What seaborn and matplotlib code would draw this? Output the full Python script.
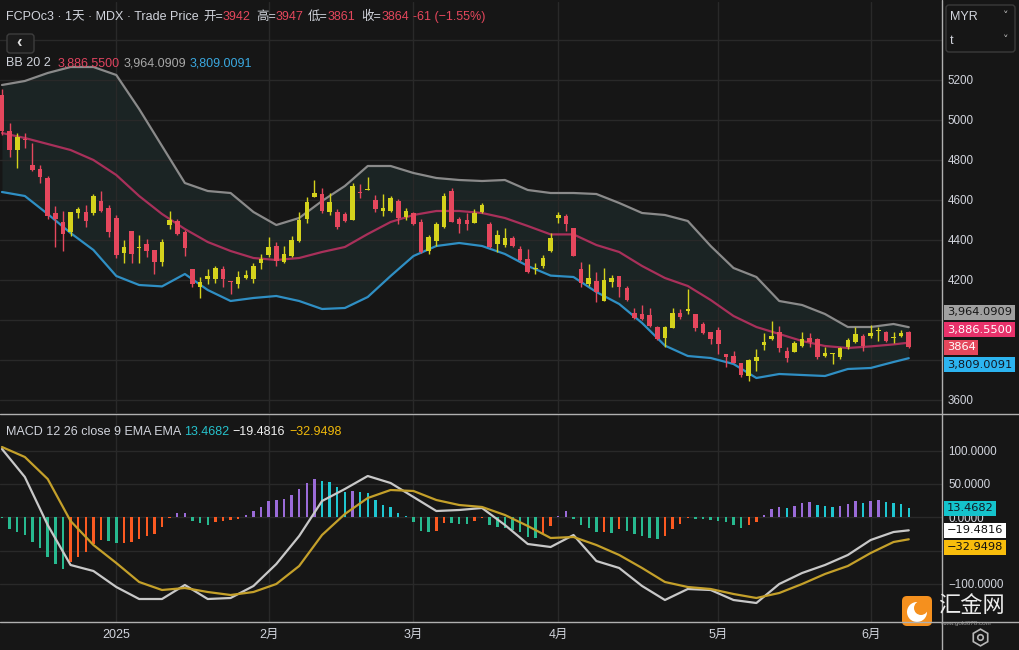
#!/usr/bin/env python3
# -*- coding: utf-8 -*-
"""
FCPOc3 日线图：K线 + 布林带(20,2) + MACD(12,26,9)
"""

import matplotlib
matplotlib.use('Agg')
import matplotlib.pyplot as plt
from matplotlib.patches import FancyBboxPatch, Circle
from matplotlib.lines import Line2D
import seaborn as sns
import numpy as np

# ---- K线数据（按交易日顺序，共120根）----
opens = [5125, 4945, 4850, 4907, 4775, 4755, 4710, 4533, 4492, 4442,
         4537, 4538, 4537, 4595, 4562, 4512, 4337, 4445, 4362, 4380,
         4350, 4292, 4475, 4495, 4442, 4253, 4167, 4203, 4203, 4253,
         4190, 4178, 4212, 4203, 4283, 4325, 4370, 4292, 4320, 4397,
         4505, 4617, 4628, 4538, 4542, 4530, 4500, 4640, 4650, 4600,
         4547, 4547, 4595, 4517, 4533, 4492, 4345, 4397, 4467, 4645,
         4503, 4500, 4487, 4542, 4480, 4380, 4375, 4408, 4353, 4305,
         4255, 4270, 4345, 4512, 4522, 4458, 4255, 4180, 4197, 4097,
         4188, 4220, 4162, 4037, 4030, 4025, 3967, 3908, 3962, 4033,
         4047, 4030, 3980, 3942, 3950, 3828, 3822, 3783, 3720, 3797,
         3875, 3903, 3940, 3845, 3842, 3870, 3908, 3903, 3820, 3832,
         3813, 3867, 3892, 3920, 3920, 3945, 3942, 3910, 3920, 3942]
highs = [5155, 4983, 4937, 4937, 4887, 4775, 4720, 4570, 4545, 4542,
         4567, 4575, 4630, 4645, 4573, 4525, 4400, 4445, 4425, 4403,
         4350, 4405, 4545, 4503, 4450, 4253, 4213, 4253, 4270, 4270,
         4195, 4245, 4250, 4287, 4330, 4413, 4392, 4370, 4420, 4538,
         4617, 4700, 4658, 4633, 4553, 4542, 4683, 4678, 4717, 4625,
         4630, 4620, 4603, 4562, 4542, 4503, 4425, 4492, 4633, 4658,
         4517, 4537, 4553, 4587, 4492, 4450, 4458, 4420, 4370, 4353,
         4283, 4325, 4433, 4538, 4530, 4458, 4292, 4280, 4238, 4258,
         4225, 4220, 4170, 4062, 4075, 4058, 3972, 3970, 4058, 4053,
         4153, 4030, 3992, 3942, 3967, 3830, 3845, 3783, 3803, 3853,
         3933, 3995, 3970, 3867, 3895, 3942, 3933, 3908, 3867, 3837,
         3867, 3908, 3963, 3930, 3975, 3967, 3947, 3938, 3950, 3947]
lows = [4925, 4817, 4762, 4858, 4747, 4687, 4503, 4367, 4347, 4422,
        4508, 4467, 4525, 4542, 4417, 4308, 4283, 4287, 4287, 4313,
        4228, 4272, 4455, 4425, 4320, 4167, 4108, 4178, 4183, 4167,
        4128, 4162, 4205, 4187, 4253, 4313, 4270, 4283, 4317, 4392,
        4487, 4617, 4537, 4525, 4455, 4492, 4500, 4612, 4650, 4542,
        4522, 4542, 4478, 4500, 4475, 4333, 4328, 4370, 4462, 4488,
        4433, 4450, 4483, 4533, 4358, 4342, 4363, 4367, 4297, 4237,
        4230, 4258, 4342, 4487, 4447, 4320, 4163, 4170, 4088, 4097,
        4163, 4117, 4097, 4003, 4000, 3967, 3900, 3867, 3958, 4005,
        4030, 3945, 3928, 3880, 3830, 3763, 3783, 3717, 3697, 3747,
        3850, 3900, 3842, 3792, 3838, 3867, 3867, 3803, 3813, 3778,
        3803, 3853, 3883, 3847, 3908, 3895, 3892, 3883, 3913, 3861]
closes = [4945, 4850, 4917, 4900, 4750, 4717, 4520, 4503, 4428, 4538,
          4553, 4497, 4620, 4547, 4442, 4325, 4367, 4330, 4367, 4347,
          4292, 4388, 4500, 4430, 4362, 4180, 4188, 4220, 4262, 4203,
          4188, 4213, 4225, 4272, 4303, 4363, 4297, 4328, 4400, 4500,
          4590, 4637, 4545, 4590, 4467, 4497, 4670, 4637, 4657, 4553,
          4558, 4608, 4508, 4547, 4478, 4342, 4417, 4480, 4620, 4492,
          4480, 4480, 4537, 4575, 4363, 4425, 4408, 4370, 4300, 4242,
          4258, 4308, 4412, 4525, 4480, 4320, 4183, 4208, 4142, 4200,
          4208, 4167, 4100, 4012, 4005, 3970, 3905, 3967, 4033, 4013,
          4057, 3962, 3937, 3905, 3878, 3813, 3787, 3725, 3800, 3817,
          3892, 3920, 3862, 3812, 3883, 3903, 3892, 3817, 3837, 3835,
          3862, 3900, 3930, 3870, 3933, 3947, 3897, 3912, 3933, 3864]

# ---- 布林带（每3根取一个读数）----
bb_idx = list(range(0, 118, 3)) + [119]
bb_upper = [5175, 5195, 5235, 5265, 5265, 5225, 5055, 4870, 4685, 4645,
            4635, 4540, 4475, 4510, 4595, 4670, 4770, 4770, 4735, 4710,
            4700, 4695, 4700, 4650, 4635, 4635, 4630, 4585, 4535, 4525,
            4495, 4370, 4260, 4215, 4095, 4075, 4030, 3965, 3965, 3980,
            3964.0909]
bb_mid = [4935, 4910, 4880, 4850, 4800, 4725, 4620, 4530, 4455, 4390,
          4345, 4310, 4300, 4310, 4340, 4365, 4430, 4490, 4525, 4545,
          4545, 4535, 4510, 4470, 4428, 4428, 4375, 4340, 4270, 4210,
          4170, 4100, 4020, 3965, 3930, 3895, 3870, 3860, 3868, 3878,
          3886.55]
bb_lower = [4640, 4620, 4530, 4435, 4350, 4220, 4175, 4168, 4230, 4150,
            4095, 4110, 4120, 4095, 4055, 4060, 4115, 4220, 4320, 4370,
            4385, 4370, 4330, 4270, 4222, 4215, 4140, 4080, 3985, 3872,
            3820, 3810, 3780, 3710, 3730, 3725, 3720, 3755, 3760, 3790,
            3809.0091]

# ---- MACD 线（同样每3根一个读数）----
macd_line = [102.5, 60.5, -11.5, -71.5, -80.5, -104.5, -122.5, -122.5, -101.5, -122.5,
             -121, -103, -70, -28, 24.5, 42.5, 62, 51.5, 30.5, 9.5,
             11, 14, -11.5, -40, -44.5, -26.5, -65.5, -76, -103, -124,
             -107.5, -109, -124, -128.5, -100, -83.5, -71.5, -56.5, -34, -22,
             -19.4816]
signal_line = [105.5, 90.5, 57.5, -5.5, -41.5, -68.5, -97, -109, -106, -112,
               -116.5, -112, -100, -73, -26.5, 5, 29, 41, 39.5, 26,
               18.5, 15.5, 3.5, -13, -31, -29.5, -41.5, -56.5, -76, -97,
               -104.5, -107.5, -115, -121, -113.5, -100, -85, -73, -53.5, -37,
               -32.9498]
# 柱状图，每根K线一个
macd_hist = [-1, -17.5, -21.5, -26.5, -36.5, -46.5, -60, -70, -77.5, -67.5,
             -60, -52.5, -40, -33.5, -35, -39, -38.5, -36.5, -32.5, -27.5,
             -25, -15, -1, 6.5, 7, -5, -9, -11.5, -6.5, -5,
             -3.5, -2.5, 3.5, 9, 15, 25, 26.5, 27.5, 33.5, 42.5,
             51.5, 57.5, 55, 53.5, 45, 37.5, 40, 38.5, 36.5, 26,
             18.5, 15, 6.5, 2.5, -7.5, -20, -21.5, -21, -8.5, -9,
             -10, -10.5, -5, -1, -11.5, -15, -16.5, -19, -22.5, -30,
             -31, -25, -13.5, 2, 10, -2.5, -11.5, -16.5, -22.5, -21.5,
             -23, -17.5, -20, -25, -28.5, -31.5, -32, -27.5, -17.5, -10,
             -1.5, -2, -2.5, -3.5, -5, -7.5, -11.5, -16.5, -11.5, -6.5,
             3.5, 12.5, 15, 13.5, 16.5, 21.5, 22.5, 18.5, 16.5, 15,
             17.5, 20, 24, 21.5, 25, 26, 22.5, 21, 19.5, 13.4682]

# ---- 坐标轴刻度 ----
month_pos = [15, 35, 54, 73, 94, 114]
month_labels = ['2025', '2月', '3月', '4月', '5月', '6月']
price_grid = [3600, 3800, 4000, 4200, 4400, 4600, 4800, 5000, 5200, 5400]
price_hidden = [3800, 4000, 5400]
macd_grid = [-100, -50, 0, 50, 100]
macd_hidden = [-50]

# 颜色
BG = '#161616'
GRID = '#292929'
TXT = '#d1d4dc'
UP = '#d4d21c'
DN = '#e5475d'

W, H = 1020, 650

sns.set_theme(style='dark', rc={'axes.facecolor': BG, 'figure.facecolor': BG})
plt.rcParams['font.family'] = ['Liberation Sans', 'Noto Sans CJK SC', 'DejaVu Sans']
plt.rcParams['axes.unicode_minus'] = False

fig = plt.figure(figsize=(W / 100, H / 100), dpi=100)
fig.patch.set_facecolor(BG)


def fx(px):
    return px / W


def fy(py):
    return 1 - py / H


def ftext(x, y, s, color=TXT, size=9, **kw):
    fig.text(fx(x), fy(y), s, color=color, fontsize=size, va='center', ha='left', **kw)


def pbox(x0, y0, x1, y1, fc, ec, r=3):
    p = FancyBboxPatch((x0 / 100, (H - y1) / 100), (x1 - x0) / 100, (y1 - y0) / 100,
                       boxstyle=f'round,pad=0,rounding_size={r / 100}',
                       transform=fig.dpi_scale_trans, fc=fc, ec=ec, lw=1)
    fig.add_artist(p)


def fmt(v):
    return f'{v:,.4f}'.replace('-', '\u2212')


ax = fig.add_axes([0, fy(413), fx(942), fy(2) - fy(413)])
ax2 = fig.add_axes([0, fy(622), fx(942), fy(415) - fy(622)], sharex=ax)

for a in (ax, ax2):
    a.set_facecolor(BG)
    for s in a.spines.values():
        s.set_visible(False)
    a.set_axisbelow(True)
    a.grid(True, color=GRID, lw=1)

# ---- 主图 ----
idx = np.arange(len(closes))
o = np.array(opens, float)
c = np.array(closes, float)
cols = np.where(c > o, UP, DN)

ax.fill_between(bb_idx, bb_lower, bb_upper, color='#1b2424', lw=0, zorder=0.2)
sns.lineplot(x=bb_idx, y=bb_upper, ax=ax, color='#8a8a8a', linewidth=1.6, zorder=2)
sns.lineplot(x=bb_idx, y=bb_mid, ax=ax, color='#a8305a', linewidth=1.6, zorder=2)
sns.lineplot(x=bb_idx, y=bb_lower, ax=ax, color='#2f8fc4', linewidth=1.6, zorder=2)

ax.vlines(idx, lows, highs, colors=cols, lw=1, zorder=3)
ax.bar(idx, np.maximum(np.abs(c - o), 5), bottom=np.minimum(o, c), width=0.6,
       color=cols, lw=0, zorder=4)

ax.set_xlim(-0.26, 123.36)
ax.set_ylim(3535, 5590)
ax.yaxis.tick_right()
ax.set_yticks(price_grid)
ax.set_yticklabels(['' if p in price_hidden else str(p) for p in price_grid])
ax.tick_params(axis='y', length=0, pad=4.3, labelcolor=TXT, labelsize=8.4)
ax.tick_params(axis='x', length=0, labelbottom=False)
ax.set_xlabel('')
ax.set_ylabel('')

# ---- MACD ----
hist = np.array(macd_hist)
prev = np.r_[0, hist[:-1]]
hcols = np.where(hist >= 0,
                 np.where(hist >= prev, '#9a6bd8', '#1fc6d0'),
                 np.where(hist < prev, '#27b98f', '#fb5a21'))
ax2.bar(idx, hist, width=0.32, color=hcols, lw=0, zorder=2)
sns.lineplot(x=bb_idx, y=macd_line, ax=ax2, color='#c8c8c8', linewidth=1.6, zorder=3)
sns.lineplot(x=bb_idx, y=signal_line, ax=ax2, color='#c4a02a', linewidth=1.6, zorder=3)

ax2.set_ylim(-157, 153.5)
ax2.yaxis.tick_right()
ax2.set_yticks(macd_grid)
ax2.set_yticklabels(['' if v in macd_hidden else fmt(v) for v in macd_grid])
ax2.tick_params(axis='y', length=0, pad=4.6, labelcolor=TXT, labelsize=8.4)
ax2.set_xticks(month_pos)
ax2.set_xticklabels(month_labels)
ax2.tick_params(axis='x', length=0, pad=5, labelcolor=TXT, labelsize=9)
ax2.set_xlabel('')
ax2.set_ylabel('')


# ---- 右侧数值标签 ----
def stack_tags(anchor, others, gap):
    pos = {anchor[0]: anchor[1]}
    last = anchor[1]
    for k, v in sorted([t for t in others if t[1] > anchor[1]], key=lambda t: t[1]):
        last = max(v, last + gap)
        pos[k] = last
    last = anchor[1]
    for k, v in sorted([t for t in others if t[1] <= anchor[1]], key=lambda t: -t[1]):
        last = min(v, last - gap)
        pos[k] = last
    return pos


def tag(a, y, text, fc, tc):
    a.text(947 / 942, y, text, transform=a.get_yaxis_transform(), ha='left', va='center',
           fontsize=8.2, color=tc, zorder=10, clip_on=False, family='DejaVu Sans',
           bbox=dict(boxstyle='square,pad=0.22', fc=fc, ec='none'))


pp = stack_tags(('close', closes[-1]),
                [('up', bb_upper[-1]), ('mid', bb_mid[-1]), ('low', bb_lower[-1])], 87)
tag(ax, pp['up'], fmt(bb_upper[-1]), '#a0a0a0', '#151515')
tag(ax, pp['mid'], fmt(bb_mid[-1]), '#e8326b', 'white')
tag(ax, pp['close'], str(closes[-1]), '#e4475c', 'white')
tag(ax, pp['low'], fmt(bb_lower[-1]), '#2cb4f0', '#131722')

mp = stack_tags(('hist', macd_hist[-1]),
                [('macd', macd_line[-1]), ('sig', signal_line[-1])], 25.5)
tag(ax2, mp['hist'], fmt(macd_hist[-1]), '#14c3cc', '#131722')
tag(ax2, mp['macd'], fmt(macd_line[-1]), '#ffffff', '#111111')
tag(ax2, mp['sig'], fmt(signal_line[-1]), '#f8bd0c', '#111111')

# ---- 分隔线 ----
for line in ([fx(942), fx(942)], [0, 1]), ([0, 1], [fy(414), fy(414)]), ([0, 1], [fy(622), fy(622)]):
    fig.add_artist(Line2D(line[0], line[1], transform=fig.transFigure, color='#b0b0b0', lw=1))

# ---- 标题文字 ----
RED = '#e4475c'
ftext(6, 17, 'FCPOc3 · 1天 · MDX · Trade Price')
ftext(203, 17, '开=')
ftext(223, 17, '3942', RED)
ftext(256, 17, '高=')
ftext(276, 17, '3947', RED)
ftext(308, 17, '低=')
ftext(328, 17, '3861', RED)
ftext(361, 17, '收=')
ftext(382, 17, '3864', RED)
ftext(413, 17, '-61 (\u22121.55%)', RED)

pbox(7, 34, 34, 53, '#1b1b1b', '#3d3d3d', r=3)
ftext(16.5, 43, '\u2039', '#e0e0e0', size=12, weight='bold')

ftext(6, 63, 'BB 20 2')
ftext(58, 63, fmt(bb_mid[-1]), '#e0435f')
ftext(124, 63, fmt(bb_upper[-1]), '#a8a8a8')
ftext(190, 63, fmt(bb_lower[-1]), '#3aa8e0')

ftext(6, 432, 'MACD 12 26 close 9 EMA EMA')
ftext(184, 432, fmt(macd_hist[-1]), '#26c2cc')
ftext(232, 432, fmt(macd_line[-1]), '#f0f0f0')
ftext(289, 432, fmt(signal_line[-1]), '#f0b90b')

# 货币选择框
pbox(946, 5, 1015, 52, BG, '#3a3a3a', r=3)
ftext(950, 17, 'MYR')
ftext(950, 41, 't')
ftext(1003, 16, '\u02c5', '#c0c0c0', size=8, family='DejaVu Sans')
ftext(1003, 40, '\u02c5', '#c0c0c0', size=8, family='DejaVu Sans')

# 设置图标
fig.add_artist(Line2D([fx(980)], [fy(637)], transform=fig.transFigure, marker='h', ms=12,
                      mfc='none', mec='#b8b8b8', mew=1.2, ls='none'))
fig.add_artist(Line2D([fx(980)], [fy(637)], transform=fig.transFigure, marker='o', ms=4,
                      mfc='none', mec='#b8b8b8', mew=1.2, ls='none'))

# 水印 logo
pbox(902, 596, 932, 626, '#f5901e', 'none', r=5)
fig.add_artist(Circle((917 / 100, (H - 612) / 100), 10 / 100, transform=fig.dpi_scale_trans,
                      fc='white', ec='none'))
fig.add_artist(Circle((921 / 100, (H - 608) / 100), 7 / 100, transform=fig.dpi_scale_trans,
                      fc='#f5901e', ec='none'))
ftext(938, 606, '汇金网', '#ececec', size=16, family=['Noto Sans CJK SC'])
ftext(940, 623, 'www.gold678.com', '#9a9a9a', size=4.5)

fig.savefig('out.png', dpi=100, facecolor=BG)
